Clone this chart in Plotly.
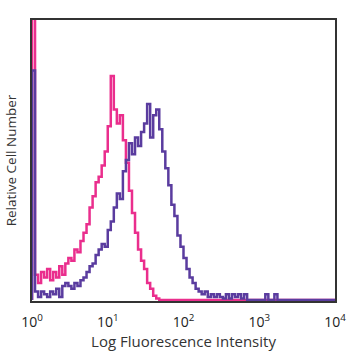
import numpy as np
import plotly.graph_objects as go

# Histogram bin width in decades (100 bins across 10^0 .. 10^4)
decade_step = 0.04

pink_counts = [140, 9, 6, 10, 8, 11, 7, 10, 8, 12,
               9, 13, 15, 14, 18, 17, 21, 24, 27, 33,
               37, 42, 44, 48, 53, 62, 80, 68, 63, 66,
               57, 49, 39, 31, 24, 18, 14, 11, 6, 4,
               1.5, 0.5, 0, 0, 0, 0, 0, 0, 0, 0,
               0, 0, 0, 0, 0, 0, 0, 0, 0, 0,
               0, 0, 0, 0, 0, 0, 0, 0, 0, 0,
               0, 0, 0, 0, 0, 0, 0, 0, 0, 0,
               0, 0, 0, 0, 0, 0, 0, 0, 0, 0,
               0, 0, 0, 0, 0, 0, 0, 0, 0, 0]

purple_counts = [82, 3, 1, 3, 2, 1, 3, 2, 4, 1,
                 5, 6, 5, 4, 6, 5, 7, 8, 10, 12,
                 13, 16, 18, 20, 19, 25, 28, 33, 38, 36,
                 46, 50, 56, 52, 58, 55, 60, 63, 70, 58,
                 66, 68, 61, 53, 47, 41, 34, 30, 23, 19,
                 15, 11, 8, 6, 4, 3, 2, 3, 1, 2,
                 1, 2, 1, 0.5, 2, 0.5, 2, 1, 2, 0.5,
                 2, 0, 0, 0, 0, 0, 0, 2, 0, 0,
                 2, 0, 0, 0, 0, 0, 0, 0, 0, 0,
                 0, 0, 0, 0, 0, 0, 0, 0, 0, 0]

tick_vals = [1, 10, 100, 1000, 10000]
tick_text = ["10<sup>0</sup>", "10<sup>1</sup>", "10<sup>2</sup>",
             "10<sup>3</sup>", "10<sup>4</sup>"]

n = len(pink_counts)
edges = 10 ** (np.arange(n + 1) * decade_step)


def step_xy(counts):
    xs = [edges[0]] + list(edges[:n]) + [edges[n]]
    ys = [0] + list(counts) + [counts[-1]]
    return xs, ys


fig = go.Figure()
for counts, color in [(pink_counts, "#ea2e8d"), (purple_counts, "#5a3c9f")]:
    xs, ys = step_xy(counts)
    fig.add_trace(go.Scatter(x=xs, y=ys, mode="lines",
                             line=dict(color=color, width=2.5, shape="hv"),
                             showlegend=False, hoverinfo="skip"))

fig.update_layout(
    width=358, height=358,
    margin=dict(l=28, r=17, t=20, b=57),
    paper_bgcolor="white", plot_bgcolor="white",
    font=dict(family="Open Sans, DejaVu Sans, sans-serif", color="#222"),
)
fig.update_xaxes(
    type="log", range=[0, 4],
    tickvals=tick_vals, ticktext=tick_text,
    tickfont=dict(size=14, color="#222"),
    showline=True, linecolor="#333", linewidth=1.5, mirror=True,
    ticks="outside", ticklen=7, tickcolor="rgba(0,0,0,0)",
    showgrid=False, zeroline=False,
    title=dict(text="Log Fluorescence Intensity", font=dict(size=15, color="#333"), standoff=2),
)
fig.update_yaxes(
    range=[-0.4, 100],
    showticklabels=False,
    showline=True, linecolor="#333", linewidth=1.5, mirror=True,
    ticks="", showgrid=False, zeroline=False,
    title=dict(text="Relative Cell Number", font=dict(size=13.5, color="#333"), standoff=11),
)

fig.write_html("out.html", config={"displayModeBar": False},
               post_script="document.body.style.margin='0';")
